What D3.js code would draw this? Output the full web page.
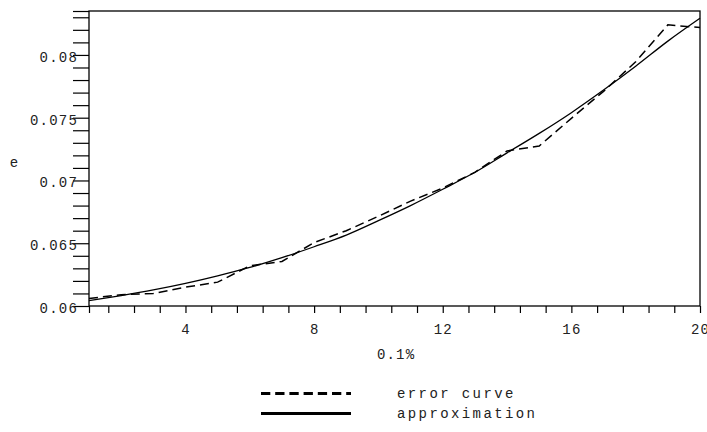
<!DOCTYPE html>
<html>
<head>
<meta charset="utf-8">
<script src="https://cdn.jsdelivr.net/npm/d3@7"></script>
<style>
  html, body { margin: 0; padding: 0; background: #fff; }
  svg { display: block; }
  text { font-family: "Liberation Mono", "Courier New", monospace; fill: #222; }
</style>
</head>
<body>
<div id="chart"></div>
<script>
// x positions (0.1% steps)
const steps = [1, 2, 3, 4, 5, 6, 7, 8, 9, 10, 11, 12, 13, 14, 15, 16, 17, 18, 19, 20];

// measured error curve (dashed)
const errorCurve = [
  0.06060, 0.06090, 0.06100, 0.06150, 0.06190, 0.06320, 0.06355, 0.06505, 0.06600, 0.06715,
  0.06835, 0.06940, 0.07065, 0.07235, 0.07275, 0.07495, 0.07710, 0.07945, 0.08240, 0.08218
];

// fitted approximation (solid)
const approximation = [
  0.06042, 0.06083, 0.06128, 0.06180, 0.06240, 0.06307, 0.06385, 0.06472, 0.06565, 0.06680,
  0.06800, 0.06930, 0.07065, 0.07220, 0.07375, 0.07540, 0.07720, 0.07910, 0.08110, 0.08292
];

const xTickLabels = [4, 8, 12, 16, 20];
const yTickLabels = [0.06, 0.065, 0.07, 0.075, 0.08];
const legendLabels = ['error curve', 'approximation'];

const width = 707;
const height = 432;
const plot = { left: 89, right: 700, top: 11, bottom: 306 };

const svg = d3.select('#chart')
  .append('svg')
  .attr('width', width)
  .attr('height', height);

const x = d3.scaleLinear()
  .domain([1, 20])
  .range([plot.left, plot.right]);

const y = d3.scaleLinear()
  .domain([0.06, 0.0835])
  .range([plot.bottom, plot.top]);

// Frame around plot area
svg.append('rect')
  .attr('x', plot.left)
  .attr('y', plot.top)
  .attr('width', plot.right - plot.left)
  .attr('height', plot.bottom - plot.top)
  .attr('fill', 'none')
  .attr('stroke', '#000')
  .attr('stroke-width', 1.3);

// Y axis: minor ticks every 0.001, labels every 0.005
const yTicks = d3.range(0.06, 0.0834, 0.001).concat([0.0835]);
svg.append('g')
  .attr('transform', `translate(${plot.left},0)`)
  .call(d3.axisLeft(y)
    .tickValues(yTicks)
    .tickSize(16)
    .tickFormat(() => ''))
  .call(g => g.select('.domain').remove())
  .call(g => g.selectAll('.tick line').attr('stroke', '#000').attr('stroke-width', 1.2));

svg.append('g')
  .selectAll('text')
  .data(yTickLabels)
  .join('text')
  .attr('x', 78)
  .attr('y', d => y(d) + 7)
  .attr('text-anchor', 'end')
  .attr('font-size', '14px')
  .attr('letter-spacing', '1.2px')
  .text(d => String(d));

// X axis: minor ticks every 0.8, labels every 4
const xTicks = [1].concat(d3.range(1.6, 20.01, 0.8));
svg.append('g')
  .attr('transform', `translate(0,${plot.bottom})`)
  .call(d3.axisBottom(x)
    .tickValues(xTicks)
    .tickSize(7)
    .tickFormat(() => ''))
  .call(g => g.select('.domain').remove())
  .call(g => g.selectAll('.tick line').attr('stroke', '#000').attr('stroke-width', 1.2));

svg.append('g')
  .selectAll('text')
  .data(xTickLabels)
  .join('text')
  .attr('x', d => x(d) + 0.6)
  .attr('y', 333.5)
  .attr('text-anchor', 'middle')
  .attr('font-size', '14px')
  .attr('letter-spacing', '1.2px')
  .text(d => d);

// Axis titles
svg.append('text')
  .attr('x', 14)
  .attr('y', 166.5)
  .attr('text-anchor', 'middle')
  .attr('font-size', '14px')
  .text('e');

svg.append('text')
  .attr('x', (plot.left + plot.right) / 2 + 1.6)
  .attr('y', 358.5)
  .attr('text-anchor', 'middle')
  .attr('font-size', '14px')
  .attr('letter-spacing', '1.2px')
  .text('0.1%');

// Curves
const line = values => d3.line()
  .x((d, i) => x(steps[i]))
  .y(d => y(d))(values);

const smooth = values => d3.line()
  .x((d, i) => x(steps[i]))
  .y(d => y(d))
  .curve(d3.curveMonotoneX)(values);

svg.append('path')
  .attr('d', smooth(approximation))
  .attr('fill', 'none')
  .attr('stroke', '#000')
  .attr('stroke-width', 1.3);

svg.append('path')
  .attr('d', line(errorCurve))
  .attr('fill', 'none')
  .attr('stroke', '#000')
  .attr('stroke-width', 1.5)
  .attr('stroke-dasharray', '9,5');

// Legend
const legend = svg.append('g');
const legendRows = [
  { label: legendLabels[0], dash: '9.3,4.9', lineY: 393.5, textY: 398 },
  { label: legendLabels[1], dash: null, lineY: 413.5, textY: 418 }
];

legendRows.forEach(row => {
  legend.append('line')
    .attr('x1', 261)
    .attr('x2', 351)
    .attr('y1', row.lineY)
    .attr('y2', row.lineY)
    .attr('stroke', '#000')
    .attr('stroke-width', 3)
    .attr('stroke-dasharray', row.dash);

  legend.append('text')
    .attr('x', 397)
    .attr('y', row.textY)
    .attr('font-size', '14px')
    .attr('letter-spacing', '2.4px')
    .text(row.label);
});
</script>
</body>
</html>
